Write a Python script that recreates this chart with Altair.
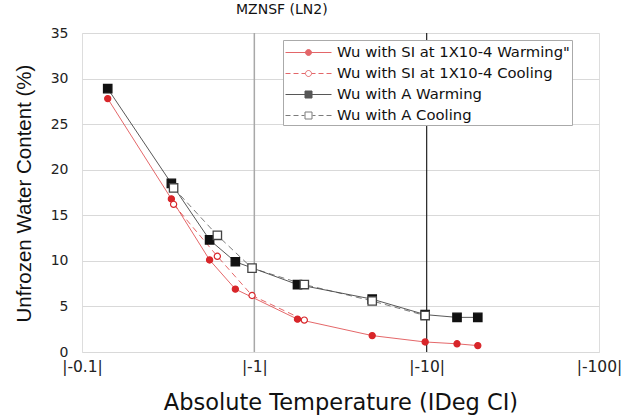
import altair as alt
import pandas as pd

# ---------------- data ----------------
series = [
    'Wu with SI at 1X10-4 Warming"',
    "Wu with SI at 1X10-4 Cooling",
    "Wu with A Warming",
    "Wu with A Cooling",
]

temp_warm = [0.141, 0.33, 0.55, 0.776, 1.78, 4.83, 9.8, 15.0, 19.8]
si_warm = [27.8, 16.8, 10.1, 6.9, 3.6, 1.8, 1.1, 0.9, 0.7]
temp_si_cool = [0.34, 0.61, 0.97, 1.95]
si_cool = [16.2, 10.5, 6.2, 3.5]
a_warm = [28.9, 18.5, 12.3, 9.9, 7.4, 5.8, 4.1, 3.8, 3.8]
temp_a_cool = [0.34, 0.61, 0.97, 1.95, 4.83, 9.8]
a_cool = [18.0, 12.8, 9.2, 7.4, 5.6, 4.0]

x_ticks = [0.1, 1, 10, 100]
y_ticks = [0, 5, 10, 15, 20, 25, 30, 35]
gray_line_at = [1]
black_line_at = [10]

# ---------------- table ----------------
rows = []
for t, w in zip(temp_warm, si_warm):
    rows.append({"T": t, "W": w, "series": series[0], "marker": "circle", "cool": False})
for t, w in zip(temp_si_cool, si_cool):
    rows.append({"T": t, "W": w, "series": series[1], "marker": "circle", "cool": True})
for t, w in zip(temp_warm, a_warm):
    rows.append({"T": t, "W": w, "series": series[2], "marker": "square", "cool": False})
for t, w in zip(temp_a_cool, a_cool):
    rows.append({"T": t, "W": w, "series": series[3], "marker": "square", "cool": True})
df = pd.DataFrame(rows)

FONT = "DejaVu Sans"
YFONT = "Liberation Sans"
stroke_range = ["#d8262a", "#d8262a", "#111111", "#444444"]
fill_range = ["#d8262a", "#ffffff", "#111111", "#ffffff"]

# legend symbols: line segment with marker (1 unit = 10 px for size 400)
circ = "M1,0A0.3,0.3,0,1,1,1.6,0A0.3,0.3,0,1,1,1,0Z"
sq = "M0.95,-0.35H1.65V0.35H0.95Z"
solid_c = "M-1,0H3.6" + circ
dash_c = "M-1,0H-0.5M-0.2,0H0.3M0.6,0H0.95M1.65,0H2M2.3,0H2.8M3.1,0H3.6" + circ
solid_s = "M-1,0H3.6" + sq
dash_s = "M-1,0H-0.5M-0.2,0H0.3M0.6,0H0.9M1.7,0H2M2.3,0H2.8M3.1,0H3.6" + sq

x_enc = alt.X(
    "T:Q",
    scale=alt.Scale(type="log", domain=[0.1, 100]),
    axis=alt.Axis(
        values=x_ticks,
        labelExpr="'|-' + datum.value + '|'",
        grid=False, ticks=False, domain=False,
        labelFlush=False, labelOverlap=False,
        labelFont=FONT, labelFontSize=15.5, labelColor="#222", labelPadding=7,
        title="Absolute Temperature (IDeg CI)",
        titleFont=FONT, titleFontSize=22.5, titleFontWeight="normal", titleColor="#111",
        titleY=50, titleBaseline="middle",
    ),
)
y_enc = alt.Y(
    "W:Q",
    scale=alt.Scale(domain=[0, 35], nice=False),
    axis=alt.Axis(
        values=y_ticks,
        grid=True, gridColor="#d9d9d9", ticks=False, domain=False,
        labelFont=FONT, labelFontSize=14, labelColor="#222", labelPadding=14,
        title="Unfrozen Water Content (%)",
        titleFont=YFONT, titleFontSize=20.5, titleFontWeight="normal", titleColor="#111",
        titleX=-58, titleY=160, titleAlign="center", titleBaseline="middle",
    ),
)
stroke_enc = alt.Stroke("series:N", scale=alt.Scale(domain=series, range=stroke_range))
fill_enc = alt.Fill("series:N", scale=alt.Scale(domain=series, range=fill_range))

base = alt.Chart(df)

rule_gray = alt.Chart(pd.DataFrame({"T": gray_line_at})).mark_rule(
    color="#a8a8a8", strokeWidth=1.5
).encode(x=alt.X("T:Q"))
rule_black = alt.Chart(pd.DataFrame({"T": black_line_at})).mark_rule(
    color="#222222", strokeWidth=1.2
).encode(x=alt.X("T:Q"))

lines_solid = base.transform_filter("!datum.cool").mark_line(strokeWidth=1, opacity=0.7).encode(
    x=x_enc, y=y_enc, stroke=stroke_enc, detail="series:N"
)
lines_dash = base.transform_filter("datum.cool").mark_line(
    strokeWidth=1, opacity=0.7, strokeDash=[6, 4]
).encode(x="T:Q", y="W:Q", stroke=stroke_enc, detail="series:N")

pts_c = base.transform_filter("datum.marker == 'circle'").mark_point(
    shape="circle", size=38, filled=True, opacity=1, strokeWidth=1.2
).encode(x="T:Q", y="W:Q", stroke=stroke_enc, fill=fill_enc)
pts_s = base.transform_filter("datum.marker == 'square'").mark_point(
    shape="square", size=70, filled=True, opacity=1, strokeWidth=1.3
).encode(x="T:Q", y="W:Q", stroke=stroke_enc, fill=fill_enc)

legend_kw = dict(
    title=None, orient="none", legendX=201, legendY=7,
    symbolSize=400, symbolStrokeWidth=1, symbolOpacity=1,
    labelFont=FONT, labelFontSize=14.8, labelColor="#111", labelOffset=31, labelLimit=400,
    fillColor="white", strokeColor="#aaaaaa", padding=2, rowPadding=3,
)
legend_layer = base.mark_point(filled=True, opacity=0, size=30).encode(
    x="T:Q", y="W:Q",
    stroke=alt.Stroke("series:N", scale=alt.Scale(domain=series, range=stroke_range),
                      legend=alt.Legend(**legend_kw)),
    fill=alt.Fill("series:N", scale=alt.Scale(domain=series, range=fill_range),
                  legend=alt.Legend(**legend_kw)),
    shape=alt.Shape("series:N", scale=alt.Scale(domain=series, range=[solid_c, dash_c, solid_s, dash_s]),
                    legend=alt.Legend(**legend_kw)),
)

chart = alt.layer(
    rule_gray, rule_black, lines_solid, lines_dash, pts_c, pts_s, legend_layer
).properties(
    width=517, height=319,
    title=alt.TitleParams("MZNSF (LN2)", anchor="start", frame="group", dx=154, offset=9,
                          font=FONT, fontSize=14, fontWeight="normal", color="#111"),
    autosize=alt.AutoSizeParams(type="none"),
    padding={"left": 82, "top": 33, "right": 30, "bottom": 63},
).configure_view(
    stroke="#333333", strokeWidth=1.5
).configure(background="white")

chart.save("out.html", embed_options={"renderer": "svg", "actions": False})
